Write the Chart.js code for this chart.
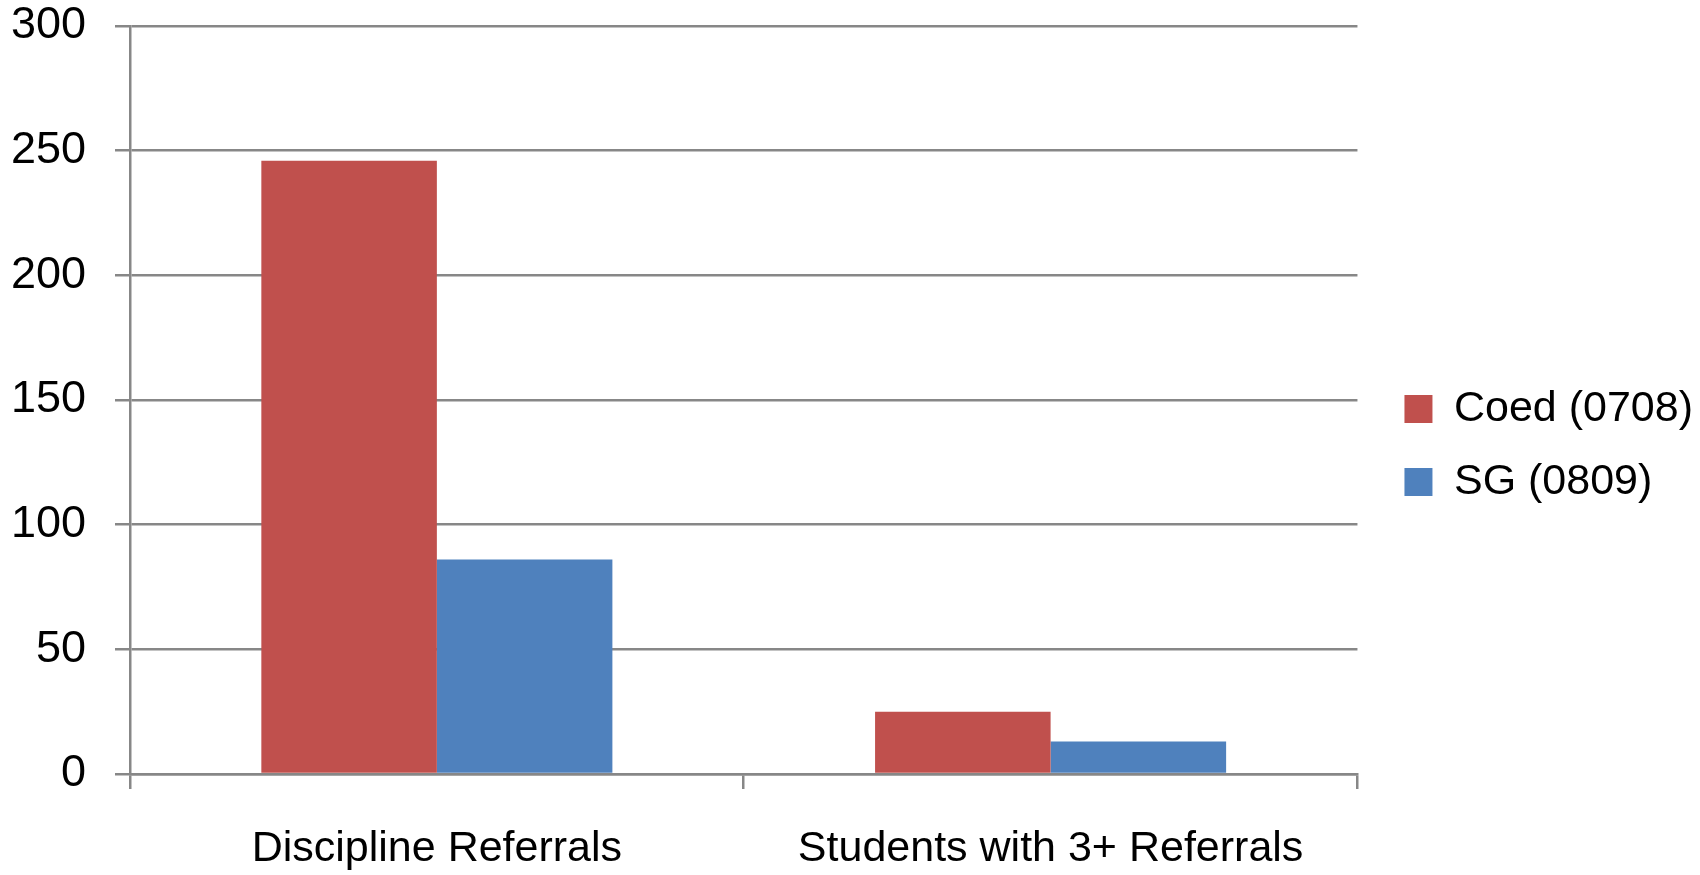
<meta charset="UTF-8">
<title>Referrals</title>
<script src="https://cdn.jsdelivr.net/npm/chart.js"></script>
<style>
  html, body { margin: 0; padding: 0; background: #fff; }
  #wrap { width: 1700px; height: 875px; }
</style>
<script>
var categories = ['Discipline Referrals', 'Students with 3+ Referrals'];
var seriesNames = ['Coed (0708)', 'SG (0809)'];
var coedValues = [246, 25];
var sgValues = [86, 13];
var yTicks = [0, 50, 100, 150, 200, 250, 300];

var gridGray = '#878787';

// nudge the legend right/down so it sits off the plot like the excel one
var legendShift = {
    id: 'legendShift',
    afterLayout: function(chart){
        var lg = chart.legend;
        lg.left += 17; lg.right += 17;
        lg.top += 8; lg.bottom += 8;
    }
};

function drawChart(){
    var ctx = document.getElementById('refChart').getContext('2d');
    new Chart(ctx, {
        type: 'bar',
        data: {
            labels: categories,
            datasets: [{
                label: seriesNames[0],
                data: coedValues,
                backgroundColor: '#C0504D',
                borderWidth: 0
            }, {
                label: seriesNames[1],
                data: sgValues,
                backgroundColor: '#4F81BD',
                borderWidth: 0
            }]
        },
        options: {
            responsive: false,
            animation: false,
            layout: {
                padding: {left: 11, right: 14, top: 0, bottom: 0}
            },
            datasets: {
                bar: {
                    categoryPercentage: 0.572,
                    barPercentage: 1.0
                }
            },
            scales: {
                x: {
                    afterFit: function(s){
                        // chart.js doubles tick padding in the size, keep it tight
                        s.height = 101;
                        s.paddingLeft = 0;
                        s.paddingRight = 0;
                    },
                    grid: {
                        offset: true,
                        drawOnChartArea: false,
                        drawTicks: true,
                        tickLength: 15,
                        color: gridGray,
                        lineWidth: 2.5
                    },
                    border: {color: gridGray, width: 2.5},
                    ticks: {
                        color: '#000',
                        padding: 34,
                        maxRotation: 0,
                        font: {family: 'Liberation Sans', size: 43}
                    }
                },
                y: {
                    min: 0,
                    max: 300,
                    afterBuildTicks: function(scale){
                        scale.ticks = yTicks.map(function(v){ return {value: v}; });
                    },
                    afterFit: function(s){
                        s.width = 119;
                        s.paddingTop = 26;
                        s.paddingBottom = 0;
                    },
                    grid: {
                        color: gridGray,
                        lineWidth: 2.5,
                        tickLength: 15
                    },
                    border: {color: gridGray, width: 2.5},
                    ticks: {
                        color: '#000',
                        padding: 29,
                        font: {family: 'Liberation Sans', size: 45}
                    }
                }
            },
            plugins: {
                legend: {
                    position: 'right',
                    labels: {
                        color: '#000',
                        boxWidth: 28,
                        boxHeight: 28,
                        padding: 30,
                        font: {family: 'Liberation Sans', size: 43}
                    }
                },
                tooltip: {enabled: false}
            }
        },
        plugins: [legendShift]
    });
}
</script>
<html>
    <body>
        <div id="wrap"><canvas id="refChart" width="1700" height="875"></canvas></div>
        <script>drawChart();</script>
    </body>
</html>
